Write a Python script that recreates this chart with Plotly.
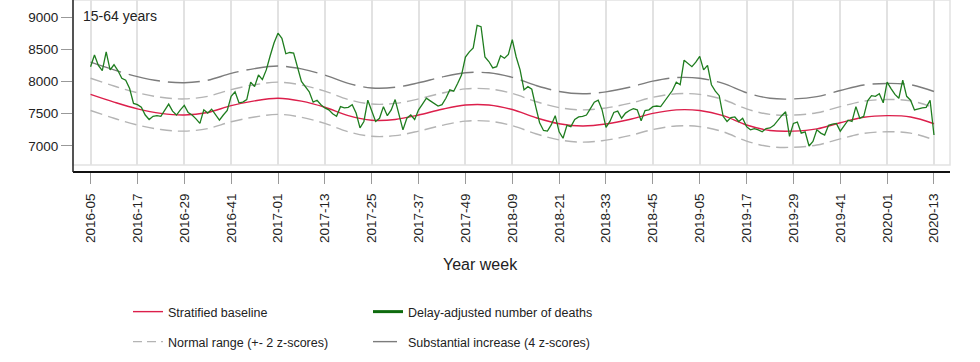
import plotly.graph_objects as go

# ---------------- data ----------------
year_weeks_count = [(2016, 52), (2017, 52), (2018, 52), (2019, 52), (2020, 53)]
_all = [f"{y}-{w:02d}" for y, n in year_weeks_count for w in range(1, n + 1)]
weeks = _all[_all.index("2016-05"):_all.index("2020-13") + 1]

tick_labels = ["2016-05", "2016-17", "2016-29", "2016-41", "2017-01", "2017-13",
               "2017-25", "2017-37", "2017-49", "2018-09", "2018-21", "2018-33",
               "2018-45", "2019-05", "2019-17", "2019-29", "2019-41", "2020-01",
               "2020-13"]

deaths = [
    8230, 8410, 8250, 8170, 8460, 8180, 8260, 8170, 8050, 8020, 7890, 7660,
    7640, 7600, 7480, 7410, 7460, 7470, 7460, 7560, 7650, 7540, 7480, 7560,
    7630, 7520, 7480, 7420, 7350, 7560, 7510, 7570, 7480, 7400, 7480, 7550,
    7770, 7840, 7670, 7680, 7720, 7990, 7920, 8100, 8030, 8180, 8400, 8600,
    8750, 8670, 8430, 8450, 8440, 8230, 8000, 7920, 7840, 7680, 7710, 7640,
    7590, 7560, 7500, 7460, 7610, 7590, 7600, 7640, 7510, 7280, 7380, 7710,
    7550, 7380, 7430, 7610, 7470, 7560, 7720, 7480, 7250, 7430, 7480, 7410,
    7560, 7650, 7740, 7700, 7660, 7620, 7640, 7740, 7870, 7850, 7970, 8100,
    8380, 8460, 8520, 8870, 8850, 8380, 8310, 8210, 8230, 8400, 8360, 8420,
    8650, 8380, 8180, 7870, 7920, 7880, 7610, 7360, 7240, 7230, 7330, 7470,
    7220, 7120, 7320, 7300, 7410, 7450, 7460, 7480, 7580, 7680, 7710, 7560,
    7290, 7380, 7520, 7540, 7430, 7510, 7550, 7580, 7560, 7390, 7550, 7560,
    7610, 7620, 7610, 7700, 7790, 7860, 7990, 7950, 8330, 8280, 8230, 8300,
    8390, 8180, 8250, 7950, 7850, 7780, 7460, 7380, 7440, 7450, 7380, 7430,
    7300, 7250, 7270, 7250, 7220, 7270, 7280, 7320, 7400, 7470, 7530, 7150,
    7350, 7370, 7200, 7220, 7000, 7070, 7250, 7200, 7170, 7320, 7340, 7350,
    7230, 7310, 7400, 7380, 7610, 7430, 7460, 7700, 7780, 7770, 7810, 7670,
    7990, 7890, 7800, 7740, 8020, 7770, 7710, 7560, 7580, 7590, 7600, 7710,
    7170,
]

# baseline / bands read at every 6th week
band_weeks = ["2016-05", "2016-11", "2016-17", "2016-23", "2016-29", "2016-35",
              "2016-41", "2016-47", "2017-01", "2017-07", "2017-13", "2017-19",
              "2017-25", "2017-31", "2017-37", "2017-43", "2017-49", "2018-03",
              "2018-09", "2018-15", "2018-21", "2018-27", "2018-33", "2018-39",
              "2018-45", "2018-51", "2019-05", "2019-11", "2019-17", "2019-23",
              "2019-29", "2019-35", "2019-41", "2019-47", "2020-01", "2020-07",
              "2020-13"]
baseline = [7800, 7680, 7575, 7505, 7480, 7520, 7625, 7700, 7740, 7695, 7600, 7470,
            7400, 7410, 7480, 7570, 7635, 7635, 7565, 7440, 7345, 7310, 7340, 7410,
            7505, 7560, 7550, 7470, 7325, 7240, 7230, 7265, 7360, 7445, 7470, 7450,
            7345]
normal_upper = [8050, 7930, 7825, 7755, 7730, 7770, 7875, 7950, 7990, 7945, 7850, 7720,
                7650, 7660, 7730, 7820, 7885, 7885, 7815, 7690, 7595, 7560, 7590, 7660,
                7755, 7810, 7800, 7720, 7575, 7490, 7480, 7515, 7610, 7695, 7720, 7700,
                7595]
normal_lower = [7550, 7430, 7325, 7255, 7230, 7270, 7375, 7450, 7490, 7445, 7350, 7220,
                7150, 7160, 7230, 7320, 7385, 7385, 7315, 7190, 7095, 7060, 7090, 7160,
                7255, 7310, 7300, 7220, 7075, 6990, 6980, 7015, 7110, 7195, 7220, 7200,
                7095]
substantial = [8300, 8180, 8075, 8005, 7980, 8020, 8125, 8200, 8240, 8195, 8100, 7970,
               7900, 7910, 7980, 8070, 8135, 8135, 8065, 7940, 7845, 7810, 7840, 7910,
               8005, 8060, 8050, 7970, 7825, 7740, 7730, 7765, 7860, 7945, 7970, 7950,
               7845]

y_ticks = [7000, 7500, 8000, 8500, 9000]

# ---------------- styles ----------------
RED = "#dc1f4b"
GREEN = "#1f7d1f"
LGRAY = "#b4b4b4"
DGRAY = "#7c7c7c"
FONT = "Liberation Sans, Arial, sans-serif"

fig = go.Figure()
fig.add_trace(go.Scatter(x=band_weeks, y=normal_upper, mode="lines", showlegend=False,
                         line=dict(color=LGRAY, width=1.4, dash="12px,6px", shape="spline"),
                         hoverinfo="skip"))
fig.add_trace(go.Scatter(x=band_weeks, y=normal_lower, mode="lines", showlegend=False,
                         line=dict(color=LGRAY, width=1.4, dash="12px,6px", shape="spline"),
                         hoverinfo="skip"))
fig.add_trace(go.Scatter(x=band_weeks, y=substantial, mode="lines", showlegend=False,
                         line=dict(color=DGRAY, width=1.4, dash="32px,8px", shape="spline"),
                         hoverinfo="skip"))
fig.add_trace(go.Scatter(x=band_weeks, y=baseline, mode="lines", showlegend=False,
                         line=dict(color=RED, width=1.4, shape="spline")))
fig.add_trace(go.Scatter(x=weeks, y=deaths, mode="lines", showlegend=False,
                         line=dict(color=GREEN, width=1.3)))

# legend entries
fig.add_trace(go.Scatter(x=[None], y=[None], mode="lines", name="Stratified baseline",
                         line=dict(color=RED, width=1.4), legend="legend"))
fig.add_trace(go.Scatter(x=[None], y=[None], mode="lines", name="Delay-adjusted number of deaths",
                         line=dict(color="#0e6b0e", width=3), legend="legend"))
fig.add_trace(go.Scatter(x=[None], y=[None], mode="lines", name="Normal range (+- 2 z-scores)",
                         line=dict(color=LGRAY, width=1.4, dash="9px,5px"), legend="legend2"))
fig.add_trace(go.Scatter(x=[None], y=[None], mode="lines", name="Substantial increase (4 z-scores)",
                         line=dict(color=DGRAY, width=1.4, dash="24px,6px"), legend="legend2"))

W, H = 980, 362
L, R, T, B = 73, 30, 0, 190
plot_h = H - T - B  # 172
dom0 = 7 / plot_h
leg_x = (128 - L) / (W - L - R)

legend_common = dict(orientation="h", xanchor="left", yanchor="middle", x=leg_x,
                     entrywidth=195, entrywidthmode="pixels",
                     font=dict(family=FONT, size=12.5, color="#222"),
                     bgcolor="rgba(0,0,0,0)", itemclick=False)

fig.update_layout(
    width=W, height=H,
    margin=dict(l=L, r=R, t=T, b=B, autoexpand=False),
    paper_bgcolor="white", plot_bgcolor="white",
    font=dict(family=FONT, size=13, color="#222"),
    legend=dict(**legend_common, y=(plot_h - 312) / plot_h),
    legend2=dict(**legend_common, y=(plot_h - 342) / plot_h),
    xaxis=dict(
        type="category", categoryorder="array", categoryarray=weeks,
        range=[-4.5, 220.1],
        anchor="free", position=0,
        tickmode="array", tickvals=tick_labels, ticktext=tick_labels,
        tickangle=-90, ticks="outside", ticklen=11, tickcolor="#999", tickwidth=1,
        tickfont=dict(family=FONT, size=13.5, color="#222"),
        ticklabelstandoff=4,
        showgrid=True, gridcolor="#e2e2e2", gridwidth=1.5,
        showline=True, linecolor="#111", linewidth=2,
        zeroline=False,
    ),
    yaxis=dict(
        domain=[dom0, 1],
        range=[6705, 9264],
        tickmode="array", tickvals=y_ticks,
        ticks="outside", ticklen=11, tickcolor="#999", tickwidth=1,
        tickfont=dict(family=FONT, size=13.5, color="#222"),
        showgrid=False, showline=False, zeroline=False,
    ),
    shapes=[
        dict(type="rect", xref="paper", yref="paper", x0=0, x1=1, y0=dom0, y1=1,
             line=dict(color="#e2e2e2", width=1.5), layer="below"),
        dict(type="line", xref="paper", yref="paper", x0=0, x1=0, y0=0, y1=1,
             line=dict(color="#222", width=1.5)),
    ],
    annotations=[
        dict(text="15-64 years", xref="paper", yref="paper", x=(81 - L) / (W - L - R), y=1,
             xanchor="left", yanchor="top", yshift=-6, showarrow=False,
             font=dict(family=FONT, size=14, color="#222")),
        dict(text="Year week", xref="paper", yref="paper", x=(480 - L) / (W - L - R),
             y=(plot_h - 264) / plot_h, xanchor="center", yanchor="middle", showarrow=False,
             font=dict(family=FONT, size=16, color="#222")),
    ],
)

fig.write_html("out.html", config={"displayModeBar": False},
               post_script="document.body.style.margin='0';")
